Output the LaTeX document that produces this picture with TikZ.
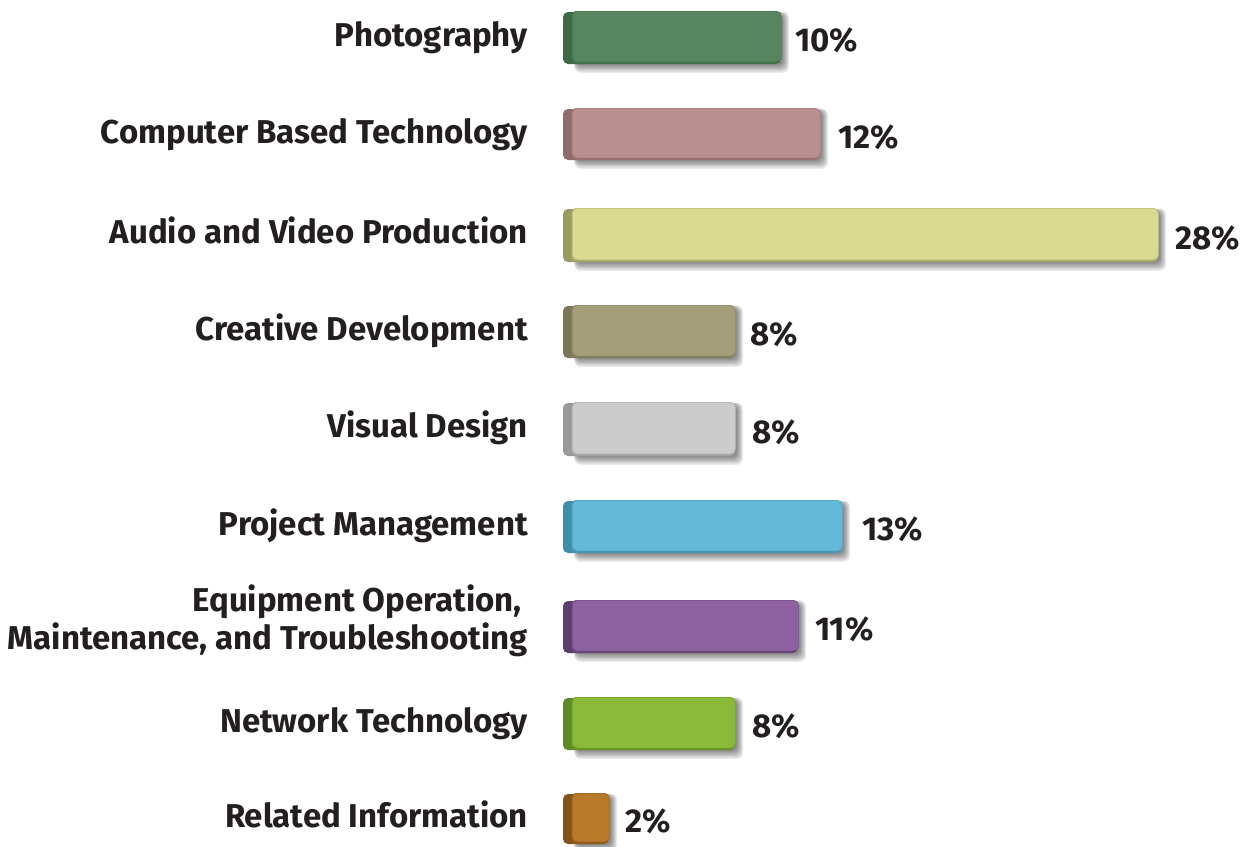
\documentclass[tikz,border=0pt]{standalone}
\usepackage{fontspec}
\setmainfont{Fira Sans}
\definecolor{txt}{HTML}{231F20}
\definecolor{m1}{HTML}{578560}\definecolor{s1}{HTML}{3D6A45}
\definecolor{m2}{HTML}{B98F8F}\definecolor{s2}{HTML}{8F6B6B}
\definecolor{m3}{HTML}{D9DB90}\definecolor{s3}{HTML}{999B5F}
\definecolor{m4}{HTML}{A49F7A}\definecolor{s4}{HTML}{7A7656}
\definecolor{m5}{HTML}{CCCCCC}\definecolor{s5}{HTML}{999999}
\definecolor{m6}{HTML}{64B9D9}\definecolor{s6}{HTML}{3F8FAC}
\definecolor{m7}{HTML}{8E62A0}\definecolor{s7}{HTML}{5D3D6C}
\definecolor{m8}{HTML}{8BBA3A}\definecolor{s8}{HTML}{5F8A23}
\definecolor{m9}{HTML}{B8792A}\definecolor{s9}{HTML}{83531A}
\tikzset{
  lab/.style={anchor=base east, inner sep=0pt, font=\bfseries\fontsize{33}{39}\selectfont, text=txt},
  pct/.style={anchor=base west, inner sep=0pt, font=\bfseries\fontsize{33}{39}\selectfont, text=txt},
  barface/.style={anchor=north west, rounded corners=5pt, inner sep=0pt, line width=0.7pt},
}
\newcommand\mkbar[8]{% name, top, bottom, right, main, side, pct, pct x
  \foreach \k in {0,...,6}{
    \fill[black, opacity=0.08, rounded corners=6pt]
      (576-\k*0.3, #2+3-\k*0.4) rectangle (#4+2+\k, #3+1+\k*1.3);
  }
  \fill[#6, rounded corners=5pt] (563,#2+1) rectangle (592,#3);
  \fill[#6!80!#5, rounded corners=5pt] (571,#2) rectangle (#4,#3);
  \node[barface, fill=#5, draw=#6!40!#5, minimum width=#4-572, minimum height=#3-#2-2.5] (#1) at (572,#2) {};
  \node[pct] (#1p) at (#8,#2/2+#3/2+14) {#7\%};
}
\begin{document}
\begin{tikzpicture}[x=1pt,y=-1pt]
\useasboundingbox (0,0) rectangle (1252,846);
\fill[white] (0,0) rectangle (1252,846);
\mkbar{b1}{11}{64}{781}{m1}{s1}{10}{795}
\mkbar{b2}{108}{160}{820}{m2}{s2}{12}{838}
\mkbar{b3}{208}{262}{1158}{m3}{s3}{28}{1175}
\mkbar{b4}{305}{358}{735}{m4}{s4}{8}{750}
\mkbar{b5}{402}{456}{735}{m5}{s5}{8}{752}
\mkbar{b6}{500}{553}{842}{m6}{s6}{13}{862}
\mkbar{b7}{600}{653}{798}{m7}{s7}{11}{815}
\mkbar{b8}{697}{750}{735}{m8}{s8}{8}{752}
\mkbar{b9}{793}{844}{609}{m9}{s9}{2}{625}
\node[lab] (l1) at (528,46) {Photography};
\node[lab] (l2) at (528,143) {Computer Based Technology};
\node[lab] (l3) at (528,243.5) {Audio and Video Production};
\node[lab] (l4) at (528,340) {Creative Development};
\node[lab] (l5) at (528,437.5) {Visual Design};
\node[lab] (l6) at (528,535) {Project Management};
\node[lab] (l7a) at (522,611) {Equipment Operation,};
\node[lab] (l7b) at (528,649) {Maintenance, and Troubleshooting};
\node[lab] (l8) at (528,732) {Network Technology};
\node[lab] (l9) at (528,827) {Related Information};
\end{tikzpicture}
\end{document}
